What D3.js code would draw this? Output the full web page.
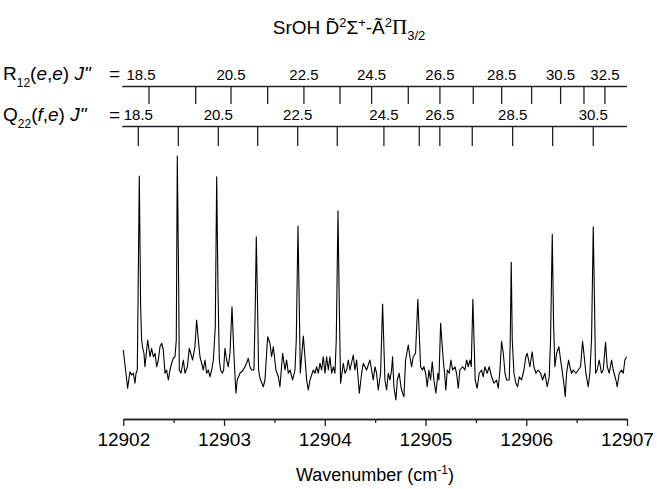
<!DOCTYPE html>
<html>
<head>
<meta charset="utf-8">
<script src="https://cdn.jsdelivr.net/npm/d3@7"></script>
<style>
  body { margin: 0; background: #fff; }
  text { font-family: "Liberation Sans", Arial, sans-serif; fill: #000; }
</style>
</head>
<body>
<div id="chart"></div>
<script>
// axis
const xDomain = [12902, 12907];
const majorTicks = [12902, 12903, 12904, 12905, 12906, 12907];
const minorTicks = [12902.5, 12903.5, 12904.5, 12905.5, 12906.5];

// R12(e,e) assignments
const rJ = [18.5, 19.5, 20.5, 21.5, 22.5, 23.5, 24.5, 25.5, 26.5, 27.5, 28.5, 29.5, 30.5, 31.5, 32.5];
const rPos = [12902.255, 12902.719, 12903.069, 12903.433, 12903.793, 12904.151, 12904.465, 12904.829,
    12905.143, 12905.474, 12905.756, 12906.053, 12906.341, 12906.573, 12906.781];
const rLabelled = [18.5, 20.5, 22.5, 24.5, 26.5, 28.5, 30.5, 32.5];

// Q22(f,e) assignments
const qJ = [18.5, 19.5, 20.5, 21.5, 22.5, 23.5, 24.5, 25.5, 26.5, 27.5, 28.5, 29.5, 30.5];
const qPos = [12902.149, 12902.546, 12902.943, 12903.334, 12903.731, 12904.124, 12904.587, 12904.938,
    12905.142, 12905.464, 12905.865, 12906.262, 12906.665];
const qLabelled = [18.5, 20.5, 22.5, 24.5, 26.5, 28.5, 30.5];

// [wavenumber, intensity (arb.)]
const spectrum = [
    [12902.000,20.0],[12902.043,4.7],[12902.066,11.3],[12902.083,10.0],[12902.100,10.7],[12902.116,6.7],
    [12902.126,10.7],[12902.139,12.0],[12902.159,89.6],[12902.172,37.3],[12902.182,24.0],[12902.192,21.0],
    [12902.205,18.7],[12902.215,13.3],[12902.242,24.0],[12902.265,17.3],[12902.281,20.7],[12902.298,17.3],
    [12902.315,18.7],[12902.331,13.3],[12902.348,16.0],[12902.364,21.3],[12902.381,22.7],[12902.397,20.0],
    [12902.414,10.7],[12902.430,12.0],[12902.447,8.0],[12902.463,12.0],[12902.480,14.7],[12902.496,16.7],
    [12902.513,17.3],[12902.526,24.0],[12902.536,97.6],[12902.550,44.0],[12902.556,12.0],[12902.573,10.7],
    [12902.596,16.0],[12902.612,10.7],[12902.636,13.3],[12902.655,20.7],[12902.669,18.7],[12902.688,16.0],
    [12902.711,21.3],[12902.728,32.0],[12902.745,24.0],[12902.761,17.3],[12902.778,14.7],[12902.794,12.0],
    [12902.811,16.0],[12902.827,10.7],[12902.844,12.0],[12902.860,9.3],[12902.877,12.0],[12902.894,16.0],
    [12902.913,29.3],[12902.927,89.3],[12902.940,44.0],[12902.953,16.0],[12902.966,12.0],[12902.983,10.7],
    [12902.996,12.0],[12903.009,20.7],[12903.026,16.0],[12903.042,13.3],[12903.059,18.7],[12903.079,37.3],
    [12903.099,17.3],[12903.118,2.7],[12903.131,8.0],[12903.158,10.7],[12903.191,12.0],[12903.224,14.7],
    [12903.241,16.7],[12903.257,13.3],[12903.274,12.0],[12903.297,12.0],[12903.310,37.3],[12903.320,65.3],
    [12903.333,37.3],[12903.343,12.0],[12903.357,8.7],[12903.390,5.3],[12903.406,8.0],[12903.433,25.3],
    [12903.456,22.7],[12903.472,17.3],[12903.489,21.3],[12903.515,12.0],[12903.539,9.3],[12903.555,5.3],
    [12903.582,18.7],[12903.605,12.0],[12903.621,16.0],[12903.638,10.7],[12903.655,12.0],[12903.681,8.0],
    [12903.704,12.0],[12903.717,24.0],[12903.734,69.6],[12903.747,37.3],[12903.757,10.7],[12903.770,17.3],
    [12903.787,25.6],[12903.803,17.3],[12903.820,8.0],[12903.836,4.0],[12903.853,8.0],[12903.886,12.0],
    [12903.903,10.7],[12903.919,13.3],[12903.936,10.7],[12903.952,14.7],[12903.969,12.0],[12903.985,17.3],
    [12904.002,10.7],[12904.018,17.3],[12904.035,12.0],[12904.051,17.3],[12904.068,10.7],[12904.085,13.3],
    [12904.101,10.7],[12904.114,24.0],[12904.131,75.7],[12904.144,37.3],[12904.157,6.7],[12904.184,14.7],
    [12904.200,10.7],[12904.217,12.0],[12904.233,16.0],[12904.250,12.0],[12904.283,18.0],[12904.299,12.0],
    [12904.316,16.0],[12904.343,2.7],[12904.366,10.7],[12904.382,14.7],[12904.415,12.0],[12904.448,16.0],
    [12904.465,12.0],[12904.481,8.0],[12904.498,13.3],[12904.514,10.7],[12904.531,4.0],[12904.554,10.7],
    [12904.574,38.4],[12904.597,8.0],[12904.614,4.0],[12904.630,10.7],[12904.647,8.0],[12904.663,12.0],
    [12904.673,17.3],[12904.686,5.3],[12904.706,0.0],[12904.720,8.0],[12904.739,10.7],[12904.756,5.3],
    [12904.772,2.7],[12904.786,1.3],[12904.802,16.0],[12904.829,22.0],[12904.845,17.3],[12904.862,13.3],
    [12904.878,17.3],[12904.901,18.7],[12904.924,40.3],[12904.951,13.3],[12904.968,12.0],[12904.984,13.3],
    [12905.001,10.7],[12905.017,5.3],[12905.034,12.0],[12905.050,8.0],[12905.067,15.3],[12905.083,8.0],
    [12905.103,2.7],[12905.123,10.7],[12905.133,8.0],[12905.150,30.7],[12905.176,16.0],[12905.189,10.7],
    [12905.202,4.0],[12905.216,12.0],[12905.236,10.7],[12905.252,16.0],[12905.269,12.0],[12905.292,13.3],
    [12905.308,10.7],[12905.325,4.7],[12905.341,12.0],[12905.368,13.3],[12905.391,12.0],[12905.408,16.0],
    [12905.424,13.3],[12905.441,16.0],[12905.454,13.3],[12905.470,40.3],[12905.493,8.0],[12905.513,4.7],
    [12905.533,10.7],[12905.556,12.0],[12905.573,9.3],[12905.589,13.3],[12905.612,10.7],[12905.632,13.3],
    [12905.656,9.3],[12905.679,6.7],[12905.705,8.0],[12905.722,4.7],[12905.739,12.0],[12905.755,23.5],
    [12905.772,18.7],[12905.789,10.7],[12905.805,8.0],[12905.831,8.0],[12905.841,24.0],[12905.851,55.1],
    [12905.861,24.0],[12905.878,10.7],[12905.897,6.7],[12905.914,5.3],[12905.930,9.3],[12905.953,8.0],
    [12905.977,12.0],[12905.996,17.3],[12906.010,18.7],[12906.036,13.3],[12906.059,19.3],[12906.076,13.3],
    [12906.096,10.7],[12906.119,12.0],[12906.142,10.7],[12906.162,8.0],[12906.185,10.7],[12906.208,5.3],
    [12906.228,9.3],[12906.241,24.0],[12906.258,66.3],[12906.271,30.7],[12906.284,13.3],[12906.301,18.7],
    [12906.324,21.3],[12906.341,16.0],[12906.360,10.7],[12906.377,5.3],[12906.387,1.3],[12906.400,10.7],
    [12906.420,16.0],[12906.433,13.3],[12906.450,10.7],[12906.466,12.0],[12906.493,10.7],[12906.516,12.0],
    [12906.539,13.3],[12906.559,23.5],[12906.572,18.7],[12906.592,10.7],[12906.615,5.3],[12906.631,10.7],
    [12906.648,24.0],[12906.665,69.3],[12906.678,37.3],[12906.688,10.7],[12906.704,12.0],[12906.724,16.0],
    [12906.747,10.7],[12906.764,12.0],[12906.787,23.1],[12906.804,13.3],[12906.824,10.7],[12906.847,16.0],
    [12906.863,12.0],[12906.890,8.0],[12906.903,5.3],[12906.923,10.7],[12906.946,12.0],[12906.963,10.7],
    [12906.979,16.0],[12906.996,17.3]
];

const width = 657, height = 489;

const svg = d3.select("#chart")
    .append("svg")
    .attr("width", width)
    .attr("height", height);

const x = d3.scaleLinear().domain(xDomain).range([123.3, 627]);
const y = d3.scaleLinear().domain([0, 100]).range([400, 150]);

// title
const title = svg.append("text")
    .attr("x", 349)
    .attr("y", 34)
    .attr("text-anchor", "middle")
    .style("font-size", "19px");
title.append("tspan").text("SrOH D\u0303");
title.append("tspan").attr("dy", -7).style("font-size", "13px").text("2");
title.append("tspan").attr("dy", 7).text("\u03A3");
title.append("tspan").attr("dy", -7).style("font-size", "13px").text("+");
title.append("tspan").attr("dy", 7).text("-\u00C3");
title.append("tspan").attr("dy", -7).style("font-size", "13px").text("2");
title.append("tspan").attr("dy", 7).style("font-family", "'Liberation Serif', serif").style("font-size", "21px").text("\u03A0");
title.append("tspan").attr("dy", 6).style("font-size", "13px").text("3/2");

// assignment rows
function drawRow(pos, js, labelled, lineY, tickLen, labelY, firstShift) {
    const g = svg.append("g");
    g.append("line")
        .attr("x1", x(xDomain[0]) - 1).attr("x2", x(xDomain[1]))
        .attr("y1", lineY).attr("y2", lineY)
        .attr("stroke", "#222").attr("stroke-width", 1.3);
    g.selectAll(".tk")
        .data(pos)
        .enter()
        .append("line")
        .attr("x1", d => x(d)).attr("x2", d => x(d))
        .attr("y1", lineY).attr("y2", lineY + tickLen)
        .attr("stroke", "#222").attr("stroke-width", 1.3);
    g.selectAll(".lb")
        .data(js.map((j, i) => ({ j: j, p: pos[i] })).filter(d => labelled.includes(d.j)))
        .enter()
        .append("text")
        .attr("x", (d, i) => x(d.p) + (i === 0 ? firstShift : 0))
        .attr("y", labelY)
        .attr("text-anchor", "middle")
        .style("font-size", "15px")
        .text(d => d.j.toFixed(1));
}
drawRow(rPos, rJ, rLabelled, 86.5, 17.5, 80, -8);
drawRow(qPos, qJ, qLabelled, 126.5, 19.5, 120, 0);

function rowLabel(letter, sub, parity, yBase) {
    const t = svg.append("text").attr("x", 3).attr("y", yBase).style("font-size", "19px");
    t.append("tspan").text(letter);
    t.append("tspan").attr("dy", 7).style("font-size", "12px").text(sub);
    t.append("tspan").attr("dy", -7).text("(");
    t.append("tspan").style("font-style", "italic").text(parity[0]);
    t.append("tspan").text(",");
    t.append("tspan").style("font-style", "italic").text(parity[1]);
    t.append("tspan").text(") ");
    t.append("tspan").style("font-style", "italic").text("J\"");
    svg.append("text").attr("x", 120).attr("y", yBase).attr("text-anchor", "end")
        .style("font-size", "19px").text("=");
}
rowLabel("R", "12", ["e", "e"], 80);
rowLabel("Q", "22", ["f", "e"], 121);

// spectrum trace
svg.append("path")
    .datum(spectrum)
    .attr("fill", "none")
    .attr("stroke", "#000")
    .attr("stroke-width", 1.1)
    .attr("stroke-linejoin", "round")
    .attr("d", d3.line().x(d => x(d[0])).y(d => y(d[1])));

// bottom axis
svg.append("g")
    .attr("transform", "translate(0,419)")
    .call(d3.axisBottom(x).tickValues(minorTicks).tickSize(4).tickFormat("").tickSizeOuter(0));
const xAxis = svg.append("g")
    .attr("transform", "translate(0,419)")
    .call(d3.axisBottom(x).tickValues(majorTicks).tickSize(7).tickPadding(7).tickFormat(d3.format("d")).tickSizeOuter(0));
svg.selectAll(".domain, .tick line").attr("stroke", "#222").attr("stroke-width", 1.3);
xAxis.selectAll("text")
    .style("font-size", "19px")
    .style("font-family", "'Liberation Sans', Arial, sans-serif")
    .attr("fill", "#000");

// axis title
const xt = svg.append("text")
    .attr("x", 375)
    .attr("y", 481)
    .attr("text-anchor", "middle")
    .style("font-size", "18px");
xt.append("tspan").text("Wavenumber (cm");
xt.append("tspan").attr("dy", -7).style("font-size", "12px").text("-1");
xt.append("tspan").attr("dy", 7).text(")");
</script>
</body>
</html>
